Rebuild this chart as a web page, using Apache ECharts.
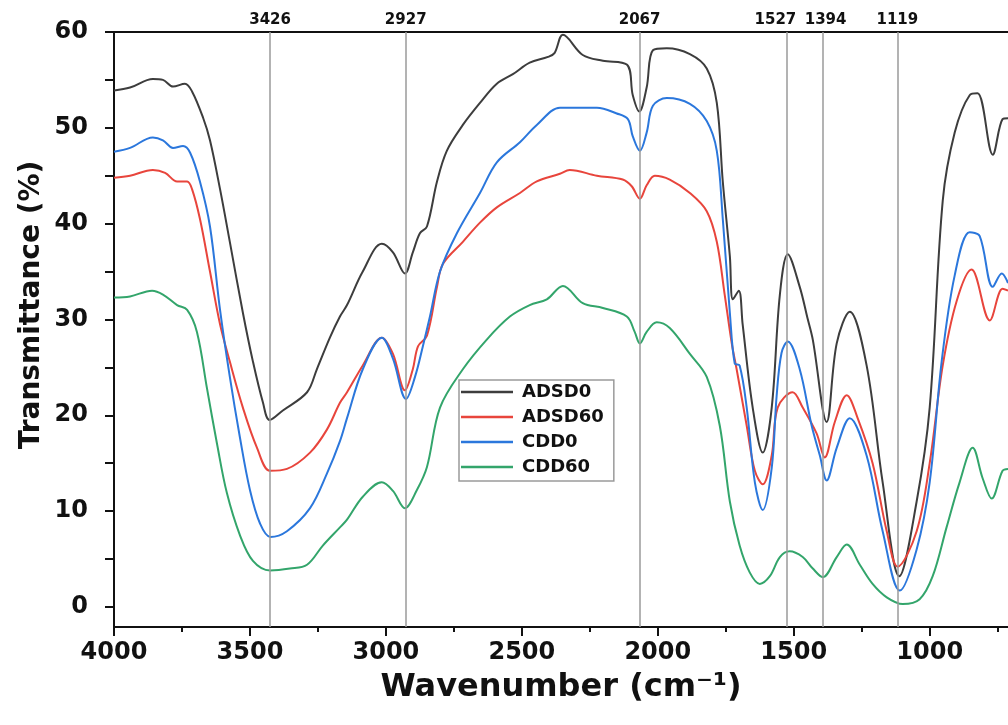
<!DOCTYPE html>
<html>
<head>
<meta charset="utf-8">
<script src="https://cdn.jsdelivr.net/npm/echarts@6/dist/echarts.min.js"></script>
<style>html,body{margin:0;padding:0;background:#fff;}#c{width:1008px;height:725px;}</style>
</head>
<body>
<div id="c"></div>
<script>
// ---- data ----
const seriesNames = ['ADSD0', 'ADSD60', 'CDD0', 'CDD60'];
const peakLines = [3426, 2927, 2067, 1527, 1394, 1119];
const xTickLabels = [4000, 3500, 3000, 2500, 2000, 1500, 1000];
const xMinorTicks = [3750, 3250, 2750, 2250, 1750, 1250, 750];
const yTickLabels = [0, 10, 20, 30, 40, 50, 60];
const yTickMarks = [0, 5, 10, 15, 20, 25, 30, 35, 40, 45, 50, 55, 60];

const adsd0Wn = [4000,3941,3857,3820,3783,3739,3713,3673,3647,3610,3574,3526,3489,3452,3428,3379,3290,3254,3206,3169,3143,3085,3015,2974,2930,2901,2875,2849,2812,2776,2717,2654,2592,2533,2471,2404,2380,2349,2276,2202,2114,2092,2068,2041,2018,1967,1882,1820,1783,1761,1735,1724,1702,1688,1651,1614,1581,1551,1522,1478,1450,1430,1379,1342,1294,1232,1173,1112,1048,1000,952,908,853,824,768,732,712];
const adsd0T  = [53.9,54.2,55.1,55.0,54.3,54.6,53.8,51.1,48.7,43.6,38.1,30.7,25.6,21.3,19.5,20.5,22.4,24.8,28.1,30.3,31.5,35.0,37.9,37.0,34.8,37.0,39.0,39.7,44.4,47.6,50.3,52.6,54.6,55.6,56.8,57.4,57.8,59.7,57.6,57.0,56.6,53.4,51.7,54.2,58.1,58.3,57.7,56.2,52.6,44.4,36.6,32.1,33.0,29.5,20.8,16.1,20.8,32.6,36.8,33.4,30.2,27.9,19.3,27.5,30.8,25.2,13.0,3.2,11.0,20.8,42.4,49.5,53.4,53.6,47.2,50.9,51.0];

const adsd60Wn = [4000,3941,3857,3812,3768,3731,3713,3684,3647,3610,3574,3526,3474,3426,3364,3279,3217,3169,3143,3085,3015,2974,2930,2901,2882,2849,2812,2790,2717,2654,2592,2507,2445,2360,2324,2224,2129,2096,2066,2041,2011,1956,1882,1820,1783,1754,1728,1710,1673,1643,1614,1581,1559,1504,1467,1416,1386,1349,1305,1265,1210,1158,1118,1048,1000,952,901,846,779,732,712];
const adsd60T  = [44.8,45.0,45.6,45.3,44.4,44.4,43.6,40.5,35.0,29.5,25.6,20.8,16.6,14.2,14.4,16.1,18.5,21.3,22.4,25.2,28.1,26.4,22.6,24.8,27.2,28.3,33.4,35.8,38.1,40.1,41.7,43.2,44.4,45.2,45.6,45.0,44.6,43.9,42.6,44.0,45.0,44.6,43.2,41.3,38.1,32.6,27.5,24.8,18.9,14.2,12.8,15.8,20.8,22.4,20.8,18.1,15.6,19.3,22.1,19.7,15.0,7.9,4.2,7.9,15.0,25.2,31.9,35.2,29.9,33.2,33.0];

const cdd0Wn = [4000,3941,3857,3820,3783,3746,3720,3684,3647,3610,3574,3537,3500,3463,3425,3364,3279,3217,3169,3143,3085,3015,2974,2926,2893,2864,2838,2801,2739,2654,2592,2507,2445,2360,2335,2224,2151,2110,2092,2066,2041,2018,1967,1882,1820,1783,1761,1735,1717,1699,1673,1643,1614,1581,1563,1545,1522,1478,1434,1404,1379,1342,1294,1232,1173,1110,1048,1000,956,908,853,816,768,735,712];
const cdd0T  = [47.5,47.9,49.0,48.7,47.9,48.1,47.4,44.4,39.7,31.0,24.0,17.7,12.2,8.7,7.3,7.9,10.3,13.9,17.3,19.7,24.8,28.1,25.9,21.7,24.0,27.2,30.3,35.0,39.0,43.2,46.4,48.5,50.3,52.1,52.1,52.1,51.5,50.9,49.1,47.6,49.5,52.3,53.1,52.5,50.7,47.6,40.5,30.7,25.4,25.2,20.8,13.0,10.1,14.5,22.0,26.5,27.7,24.8,18.9,15.8,13.2,16.6,19.7,15.8,7.9,1.7,6.0,13.0,25.6,34.6,39.1,38.7,33.4,34.8,33.8];

const cdd60Wn = [4000,3941,3860,3820,3768,3731,3695,3658,3621,3585,3537,3489,3426,3353,3290,3232,3169,3143,3085,3015,2974,2930,2886,2849,2801,2717,2629,2544,2471,2408,2349,2276,2202,2114,2085,2066,2041,2004,1956,1882,1820,1772,1735,1699,1662,1625,1588,1551,1515,1467,1430,1393,1342,1305,1257,1210,1158,1099,1037,989,938,890,842,805,772,732,712];
const cdd60T  = [32.3,32.4,33.0,32.6,31.5,31.0,28.7,22.8,17.0,11.9,7.5,4.8,3.8,4.0,4.4,6.4,8.3,9.1,11.5,13.0,12.1,10.3,12.2,14.6,20.8,24.8,27.9,30.3,31.5,32.1,33.5,31.7,31.2,30.3,28.7,27.5,28.7,29.7,29.1,26.4,24.0,18.9,11.0,6.4,3.6,2.4,3.2,5.2,5.8,5.2,4.0,3.1,5.2,6.5,4.4,2.4,1.0,0.3,0.8,3.2,8.3,13.0,16.6,13.4,11.3,14.2,14.4];

const colors = ['#3d3d3d', '#e8453c', '#2b77dc', '#33a56b'];

// ---- chart ----
const X_MIN = 712, X_MAX = 4000;
const pair = (w, t) => w.map((x, i) => [x, t[i]]);
const allData = [pair(adsd0Wn, adsd0T), pair(adsd60Wn, adsd60T), pair(cdd0Wn, cdd0T), pair(cdd60Wn, cdd60T)];
const FONT = 'DejaVu Sans';
const INK = '#111';

const chart = echarts.init(document.getElementById('c'), null, {renderer: 'canvas'});

const lineSeries = seriesNames.map((n, i) => ({
  name: n,
  type: 'line',
  data: allData[i],
  showSymbol: false,
  smooth: 0.35,
  z: 3,
  lineStyle: {color: colors[i], width: 2},
  itemStyle: {color: colors[i]}
}));

const labelOffsets = {1527: [-11, 0], 1394: [3, 0]};

const option = {
  animation: false,
  backgroundColor: '#fff',
  grid: {left: 114, right: 0, top: 32, bottom: 98, containLabel: false, outerBoundsMode: 'none'},
  xAxis: [{
    type: 'value', min: X_MIN, max: X_MAX, inverse: true,
    position: 'bottom',
    axisLine: {show: true, onZero: false, lineStyle: {color: INK, width: 2}},
    axisTick: {show: true, inside: false, length: 9, customValues: xTickLabels, lineStyle: {color: INK, width: 2}},
    splitLine: {show: false},
    axisLabel: {color: INK, fontFamily: FONT, fontWeight: 'bold', fontSize: 24, margin: 14, customValues: xTickLabels, formatter: v => String(v)}
  }, {
    type: 'value', min: X_MIN, max: X_MAX, inverse: true, position: 'bottom', offset: 0,
    axisLine: {show: false, onZero: false},
    axisTick: {show: true, inside: false, length: 5, customValues: xMinorTicks, lineStyle: {color: INK, width: 2}},
    axisLabel: {show: false}, splitLine: {show: false}
  }, {
    type: 'value', min: X_MIN, max: X_MAX, inverse: true, position: 'top',
    axisLine: {show: true, onZero: false, lineStyle: {color: INK, width: 2}},
    axisTick: {show: false}, axisLabel: {show: false}, splitLine: {show: false}
  }],
  yAxis: [{
    type: 'value', min: -2.1, max: 60,
    axisLine: {show: true, onZero: false, lineStyle: {color: INK, width: 2}},
    axisTick: {show: true, length: 9, customValues: yTickMarks, lineStyle: {color: INK, width: 2}},
    splitLine: {show: false},
    axisLabel: {color: INK, fontFamily: FONT, fontWeight: 'bold', fontSize: 24, margin: 26, customValues: yTickLabels}
  }],
  legend: {
    data: seriesNames,
    orient: 'vertical',
    left: 459, top: 380,
    icon: 'rect', itemWidth: 52, itemHeight: 2.5, itemGap: 7,
    padding: [3, 10, 5, 2],
    borderColor: '#9a9a9a', borderWidth: 1.5,
    backgroundColor: '#fff',
    textStyle: {color: INK, fontFamily: FONT, fontWeight: 'bold', fontSize: 18, padding: [0, 0, 0, 4]}
  },
  graphic: [{
    type: 'text', x: 561, y: 688,
    style: {text: 'Wavenumber (cm⁻¹)', fill: INK, fontFamily: FONT, fontWeight: 'bold', fontSize: 32, align: 'center', verticalAlign: 'middle'}
  }, {
    type: 'text', x: 32, y: 305, rotation: Math.PI / 2,
    style: {text: 'Transmittance (%)', fill: INK, fontFamily: FONT, fontWeight: 'bold', fontSize: 28, align: 'center', verticalAlign: 'middle'}
  }],
  series: [{
    name: 'peaks', type: 'line', data: [], z: 1, silent: true,
    markLine: {
      silent: true, symbol: 'none', animation: false,
      lineStyle: {color: '#9a9a9a', width: 1.5, type: 'solid'},
      label: {show: true, position: 'end', distance: 4, formatter: p => String(p.value), color: INK, fontFamily: FONT, fontWeight: 'bold', fontSize: 15},
      data: peakLines.map(v => ({xAxis: v, label: {offset: labelOffsets[v] || [0, 0]}}))
    }
  }].concat(lineSeries)
};
chart.setOption(option);
</script>
</body>
</html>
